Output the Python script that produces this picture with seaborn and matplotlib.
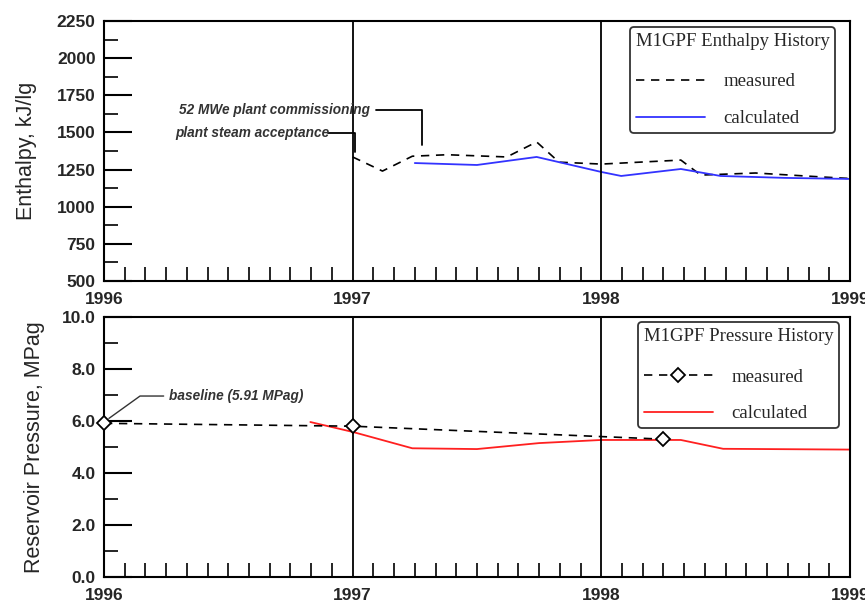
import matplotlib
matplotlib.use("Agg")
import matplotlib.pyplot as plt
import seaborn as sns
import pandas as pd
from matplotlib.ticker import MultipleLocator, FormatStrFormatter

# ---- data ----
enth_meas_t = [1997.0, 1997.12, 1997.24, 1997.38, 1997.62, 1997.74, 1997.83, 1998.0,
               1998.32, 1998.40, 1998.62, 1998.89, 1999.0]
enth_meas_v = [1335, 1240, 1340, 1350, 1335, 1436, 1300, 1287, 1314, 1213, 1227, 1200, 1190]

enth_calc_t = [1997.25, 1997.5, 1997.74, 1998.0, 1998.08, 1998.32, 1998.48, 1998.74, 1999.0]
enth_calc_v = [1294, 1281, 1335, 1234, 1207, 1254, 1207, 1194, 1187]

pres_meas_t = [1996.0, 1997.0, 1998.25]
pres_meas_v = [5.91, 5.80, 5.30]

pres_calc_t = [1996.83, 1997.0, 1997.24, 1997.5, 1997.75, 1998.0, 1998.32, 1998.49, 1999.0]
pres_calc_v = [5.96, 5.58, 4.95, 4.92, 5.15, 5.27, 5.27, 4.93, 4.90]

year_labels = ["1996", "1997", "1998", "1999"]
events = [1997.0, 1998.0]

sns.set_style("ticks")
plt.rcParams['font.family'] = ['Liberation Sans', 'DejaVu Sans']

fig = plt.figure(figsize=(8.65, 6.06), dpi=100)
ax1 = fig.add_axes([0.1202, 0.5363, 0.8624, 0.429])
ax2 = fig.add_axes([0.1202, 0.0479, 0.8624, 0.429])

em = pd.DataFrame({"t": enth_meas_t, "v": enth_meas_v})
ec = pd.DataFrame({"t": enth_calc_t, "v": enth_calc_v})
pm = pd.DataFrame({"t": pres_meas_t, "v": pres_meas_v})
pc = pd.DataFrame({"t": pres_calc_t, "v": pres_calc_v})

sns.lineplot(data=em, x="t", y="v", ax=ax1, color="black", linestyle=(0, (5, 4)),
             linewidth=1.2, label="measured", sort=False)
sns.lineplot(data=ec, x="t", y="v", ax=ax1, color="#3333ff", linewidth=1.3,
             label="calculated", sort=False)

sns.lineplot(data=pm, x="t", y="v", ax=ax2, color="black", linestyle=(0, (5, 4)),
             linewidth=1.2, marker="D", markersize=7, markerfacecolor="white",
             markeredgecolor="black", markeredgewidth=1.3, label="measured",
             sort=False, clip_on=False, zorder=5)
sns.lineplot(data=pc, x="t", y="v", ax=ax2, color="#ff2020", linewidth=1.3,
             label="calculated", sort=False)

for ax in (ax1, ax2):
    ax.set_xlim(1996, 1999)
    ax.xaxis.set_minor_locator(MultipleLocator(1 / 12))
    ax.set_xticks(range(1996, 2000))
    ax.set_xticklabels(year_labels)
    ax.tick_params(axis="both", which="both", direction="in", color="black")
    ax.tick_params(axis="x", which="major", length=0, pad=8)
    ax.tick_params(axis="x", which="minor", length=10, width=1.2)
    ax.tick_params(axis="y", which="major", length=20, width=1.5, pad=6)
    ax.tick_params(axis="y", which="minor", length=10, width=1.2)
    ax.tick_params(top=False, right=False)
    for sp in ax.spines.values():
        sp.set_visible(True)
        sp.set_linewidth(1.5)
        sp.set_color("black")
    for e in events:
        ax.axvline(e, color="black", linewidth=1.3)
    ax.set_xlabel("")

ax1.set_ylim(500, 2250)
ax1.yaxis.set_major_locator(MultipleLocator(250))
ax1.yaxis.set_minor_locator(MultipleLocator(125))
ax1.set_ylabel("Enthalpy, kJ/lg", fontsize=15.5, labelpad=14)

ax2.set_ylim(0, 10)
ax2.yaxis.set_major_locator(MultipleLocator(2))
ax2.yaxis.set_minor_locator(MultipleLocator(1))
ax2.yaxis.set_major_formatter(FormatStrFormatter("%.1f"))
ax2.set_ylabel("Reservoir Pressure, MPag", fontsize=15.5, labelpad=12)

for ax in (ax1, ax2):
    for lab in ax.get_xticklabels() + ax.get_yticklabels():
        lab.set_fontsize(12.5)
        lab.set_fontweight("bold")

# annotations
ann_font = dict(fontsize=9.8, style="italic", fontweight="bold", color="#333333")
ax1.text(1996.30, 1651, "52 MWe plant commissioning", va="center", ha="left", **ann_font)
ax1.plot([1997.095, 1997.28, 1997.28], [1651, 1651, 1415], color="black", linewidth=1.3)
ax1.text(1996.285, 1496, "plant steam acceptance", va="center", ha="left", **ann_font)
ax1.plot([1996.9, 1997.01, 1997.01], [1496, 1496, 1368], color="black", linewidth=1.3)

ax2.text(1996.26, 6.96, "baseline (5.91 MPag)", va="center", ha="left", **ann_font)
ax2.plot([1996.24, 1996.145, 1996.02], [6.96, 6.96, 6.1], color="#333333", linewidth=1.0)

# legends
for ax, title, anchor in ((ax1, "M1GPF Enthalpy History", (0.98, 0.977)),
                          (ax2, "M1GPF Pressure History", (0.985, 0.98))):
    leg = ax.legend(title=title, loc="upper right", bbox_to_anchor=anchor,
                    frameon=True, fancybox=True, edgecolor="#333333", framealpha=1,
                    prop={"family": "Liberation Serif", "size": 13.5},
                    handlelength=3.7, handletextpad=1.0, labelspacing=1.05,
                    borderpad=0.3, borderaxespad=0)
    leg.get_title().set_fontfamily("Liberation Serif")
    leg.get_title().set_fontsize(13.5)
    leg.get_frame().set_linewidth(1.3)
    leg._legend_box.sep = 17
    leg._legend_box.align = "left"

fig.savefig("out.png", dpi=100)
